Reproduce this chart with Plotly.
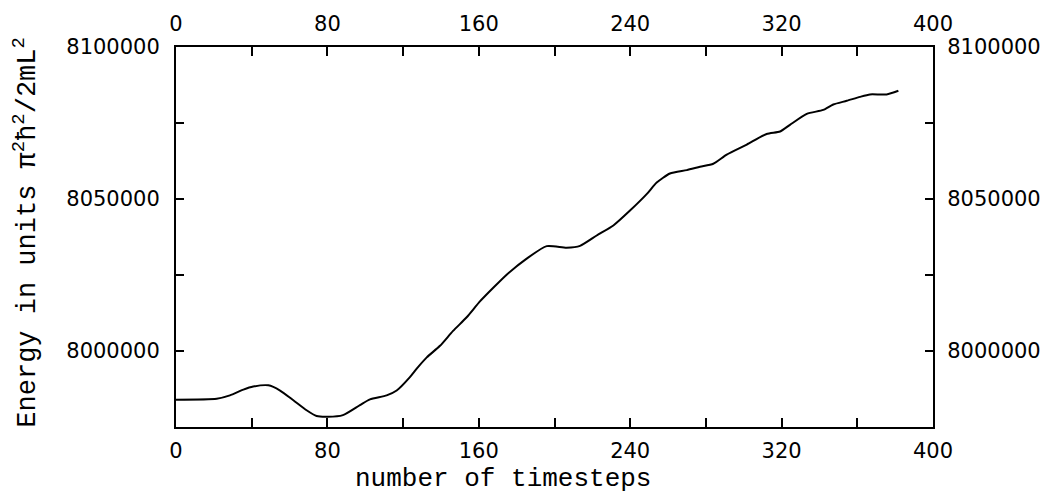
import plotly.graph_objects as go

# Data
timesteps = [0, 21.5, 28.5, 35.6, 40.8, 48.8, 55, 62, 69, 74.3, 80.3, 88.2, 97.2, 102.5,
             111.3, 116.6, 123.6, 127.2, 132.5, 139.5, 146.4, 153.6, 160.6, 167.5, 174.7,
             185.3, 195.9, 206.4, 213.5, 222.3, 231.1, 239.9, 248.7, 254, 261, 269.9,
             276.9, 283.9, 291, 301.6, 312.1, 319.2, 324.4, 333.3, 342, 347.3, 354.4,
             361.4, 366.7, 375.5, 381.7]
energy = [7984000, 7984300, 7985400, 7987300, 7988300, 7988700, 7987000, 7983800, 7980500,
          7978600, 7978350, 7978900, 7982200, 7984100, 7985400, 7987000, 7991400, 7994200,
          7997900, 8001700, 8006600, 8011100, 8016300, 8020700, 8025100, 8030400, 8034500,
          8034000, 8034600, 8038000, 8041300, 8046200, 8051600, 8055400, 8058400, 8059500,
          8060600, 8061600, 8064600, 8067900, 8071400, 8072200, 8074400, 8078000, 8079300,
          8081100, 8082300, 8083600, 8084400, 8084400, 8085600]

x_range = [0, 400]
y_range = [7975000, 8100000]
x_ticks = [0, 80, 160, 240, 320, 400]
y_ticks = [8000000, 8050000, 8100000]
y_ticklabels = ["8000000", "8050000", "8100000"]

x_title = "number of timesteps"
y_title = "Energy in units π<sup>2</sup>ħ<sup>2</sup>/2mL<sup>2</sup>"

tick_font = dict(family="DejaVu Sans", size=21, color="black")
title_font_family = "Liberation Mono"

fig = go.Figure()
fig.add_trace(go.Scatter(x=timesteps, y=energy, mode="lines",
                         line=dict(color="black", width=2, shape="spline", smoothing=0.6),
                         showlegend=False, hoverinfo="skip"))
fig.add_trace(go.Scatter(x=timesteps, y=energy, mode="lines", xaxis="x2", yaxis="y2",
                         line=dict(color="rgba(0,0,0,0)", width=1),
                         showlegend=False, hoverinfo="skip"))

common_x = dict(range=x_range, tickvals=x_ticks, ticks="inside", ticklen=9, tickwidth=1.5,
                tickcolor="black", showline=True, linecolor="black", linewidth=2,
                showgrid=False, zeroline=False, tickfont=tick_font,
                minor=dict(dtick=40, tick0=0, ticks="inside", ticklen=9, tickwidth=1.5,
                           tickcolor="black", showgrid=False))
common_y = dict(range=y_range, tickvals=y_ticks, ticktext=y_ticklabels, ticks="inside",
                ticklen=8, tickwidth=1.5, tickcolor="black", showline=True,
                linecolor="black", linewidth=2, showgrid=False, zeroline=False,
                tickfont=tick_font,
                minor=dict(dtick=25000, tick0=8000000, ticks="inside", ticklen=8,
                           tickwidth=1.5, tickcolor="black", showgrid=False))

fig.update_layout(
    width=1064, height=497,
    margin=dict(l=176, r=131, t=43, b=70),
    paper_bgcolor="white", plot_bgcolor="white",
    xaxis=dict(**common_x, side="bottom", ticklabelstandoff=4),
    xaxis2=dict(**common_x, side="top", overlaying="x", ticklabelstandoff=6),
    yaxis=dict(**common_y, side="left", ticklabelstandoff=10),
    yaxis2=dict(**common_y, side="right", overlaying="y", ticklabelstandoff=8),
    annotations=[
        dict(text=x_title, xref="paper", yref="paper", x=0.432, y=-0.138,
             xanchor="center", yanchor="middle", showarrow=False,
             font=dict(family=title_font_family, size=26, color="black")),
        dict(text=y_title, xref="paper", yref="paper", x=-0.2, y=0.513,
             xanchor="center", yanchor="middle", textangle=-90, showarrow=False,
             font=dict(family=title_font_family, size=27, color="black")),
    ],
)

fig.write_html("out.html")
